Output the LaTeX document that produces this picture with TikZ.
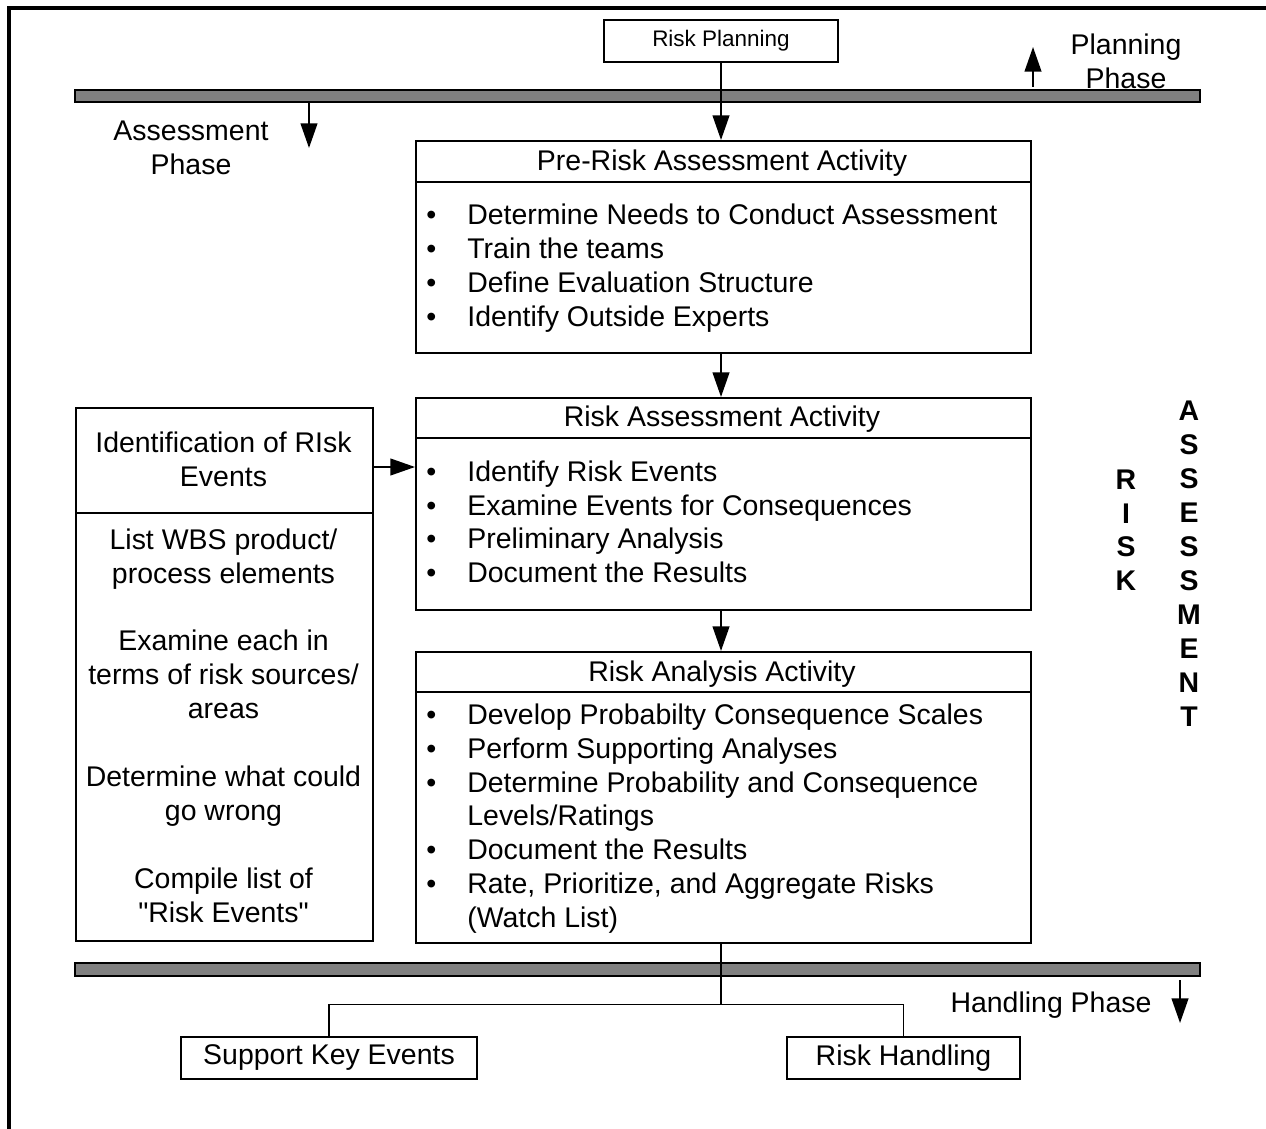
\documentclass[tikz,border=0pt]{standalone}
\usepackage{fontspec}
\setmainfont{Liberation Sans}
\newfontfamily\plainquotes{Liberation Sans}
\usetikzlibrary{arrows.meta}

\newcommand{\bul}{\makebox[0.82cm][l]{\textbullet}}

\begin{document}
\begin{tikzpicture}[x=0.02cm, y=-0.02cm,
    font=\fontsize{16.2}{19.35}\selectfont,
    box/.style={draw, line width=1.1pt, inner sep=0pt, anchor=north west},
    arr/.style={line width=1.1pt, -{Triangle[length=14pt,width=9.5pt]}},
    lnk/.style={line width=0.6pt}]
    \useasboundingbox (0,0) rectangle (1266,1128);
    % frame
    \draw[line width=2.3pt] (9,1130) -- (9,8) -- (1270,8);
    % phase bars
    \filldraw[fill=gray, line width=1.1pt] (75,90) rectangle (1200,102);
    \filldraw[fill=gray, line width=1.1pt] (75,963) rectangle (1200,976);
    % boxes
    \node[draw, line width=1.1pt, minimum width=4.68cm, minimum height=0.84cm,
        font=\fontsize{12.8}{15}\selectfont] (plan) at (721,41) {Risk Planning};
    \node[box, minimum width=12.3cm, minimum height=4.24cm] (prerisk) at (415,140) {};
    \node[box, minimum width=12.3cm, minimum height=4.24cm] (riskass) at (415,397) {};
    \node[box, minimum width=12.3cm, minimum height=5.82cm] (riskana) at (415,651) {};
    \node[box, minimum width=5.94cm, minimum height=10.66cm] (ident) at (75,407) {};
    \node[draw, line width=1.1pt, minimum width=5.92cm, minimum height=0.84cm] (support) at (329,1058) {Support Key Events};
    \node[draw, line width=1.1pt, minimum width=4.66cm, minimum height=0.84cm] (handling) at (903.5,1058) {Risk Handling};
    % title rules
    \draw[line width=1.1pt] (prerisk.west |- 0,182) -- (prerisk.east |- 0,182);
    \draw[line width=1.1pt] (riskass.west |- 0,438) -- (riskass.east |- 0,438);
    \draw[line width=1.1pt] (riskana.west |- 0,692) -- (riskana.east |- 0,692);
    \draw[line width=1.1pt] (ident.west |- 0,513) -- (ident.east |- 0,513);
    % titles
    \node[anchor=base] (prerisktitle) at (722,171) {Pre-Risk Assessment Activity};
    \node[anchor=base] (riskasstitle) at (722,426) {Risk Assessment Activity};
    \node[anchor=base] (riskanatitle) at (722,681) {Risk Analysis Activity};
    \node[anchor=base, inner sep=0pt] (identtitle) at (223.5,452)
        {\begin{tabular}[t]{@{}c@{}}Identification of RIsk\\Events\end{tabular}};
    % bullet lists
    \node[anchor=base west, inner sep=0pt] (preriskitems) at (426,225)
        {\begin{tabular}[t]{@{}l@{}}
        \bul Determine Needs to Conduct Assessment\\
        \bul Train the teams\\
        \bul Define Evaluation Structure\\
        \bul Identify Outside Experts
        \end{tabular}};
    \node[anchor=base west, inner sep=0pt] (riskassitems) at (426,481)
        {\begin{tabular}[t]{@{}l@{}}
        \bul Identify Risk Events\\
        \bul Examine Events for Consequences\\
        \bul Preliminary Analysis\\
        \bul Document the Results
        \end{tabular}};
    \node[anchor=base west, inner sep=0pt] (riskanaitems) at (426,724)
        {\begin{tabular}[t]{@{}l@{}}
        \bul Develop Probabilty Consequence Scales\\
        \bul Perform Supporting Analyses\\
        \bul Determine Probability and Consequence\\
        \hspace{0.82cm}Levels/Ratings\\
        \bul Document the Results\\
        \bul Rate, Prioritize, and Aggregate Risks\\
        \hspace{0.82cm}(Watch List)
        \end{tabular}};
    \node[anchor=base, inner sep=0pt] (identitems) at (223.5,549)
        {\begin{tabular}[t]{@{}c@{}}
        List WBS product/\\process elements\\ \\
        Examine each in\\terms of risk sources/\\areas\\ \\
        Determine what could\\go wrong\\ \\
        Compile list of\\{\plainquotes "Risk Events"}
        \end{tabular}};
    % phase labels
    \node[anchor=base, inner sep=0pt] (planphase) at (1126,55)
        {\begin{tabular}[t]{@{}c@{}}Planning\\Phase\end{tabular}};
    \node[anchor=base, inner sep=0pt] (assphase) at (191,141)
        {\begin{tabular}[t]{@{}c@{}}Assessment\\Phase\end{tabular}};
    \node[anchor=base, inner sep=0pt] (handphase) at (1051,1012) {Handling Phase};
    \node[anchor=base, inner sep=0pt, font=\fontsize{16.2}{19.35}\bfseries] (risk) at (1126,489)
        {\begin{tabular}[t]{@{}c@{}}R\\I\\S\\K\end{tabular}};
    \node[anchor=base, inner sep=0pt, font=\fontsize{16.2}{19.4}\bfseries] (assessment) at (1189,420)
        {\begin{tabular}[t]{@{}c@{}}A\\S\\S\\E\\S\\S\\M\\E\\N\\T\end{tabular}};
    % phase arrows
    \coordinate (planA) at (1033,87);
    \coordinate (planB) at (1033,47);
    \coordinate (assA) at (309,103);
    \coordinate (assB) at (309,148);
    \coordinate (handA) at (1180,980);
    \coordinate (handB) at (1180,1023);
    \draw[arr] (planA) -- (planB);
    \draw[arr] (assA) -- (assB);
    \draw[arr] (handA) -- (handB);
    % flow
    \draw[arr] (plan.south) -- (plan.south |- prerisk.north);
    \draw[arr] (prerisk.south -| plan) -- (riskass.north -| plan);
    \draw[arr] (riskass.south -| plan) -- (riskana.north -| plan);
    \draw[arr] (ident.east |- 0,467) -- (riskass.west |- 0,467);
    \draw[lnk] (riskana.south -| plan) -- ++(0,61) coordinate (fork);
    \draw[lnk] (support.north) |- (fork) -| (handling.north);
\end{tikzpicture}
\end{document}
